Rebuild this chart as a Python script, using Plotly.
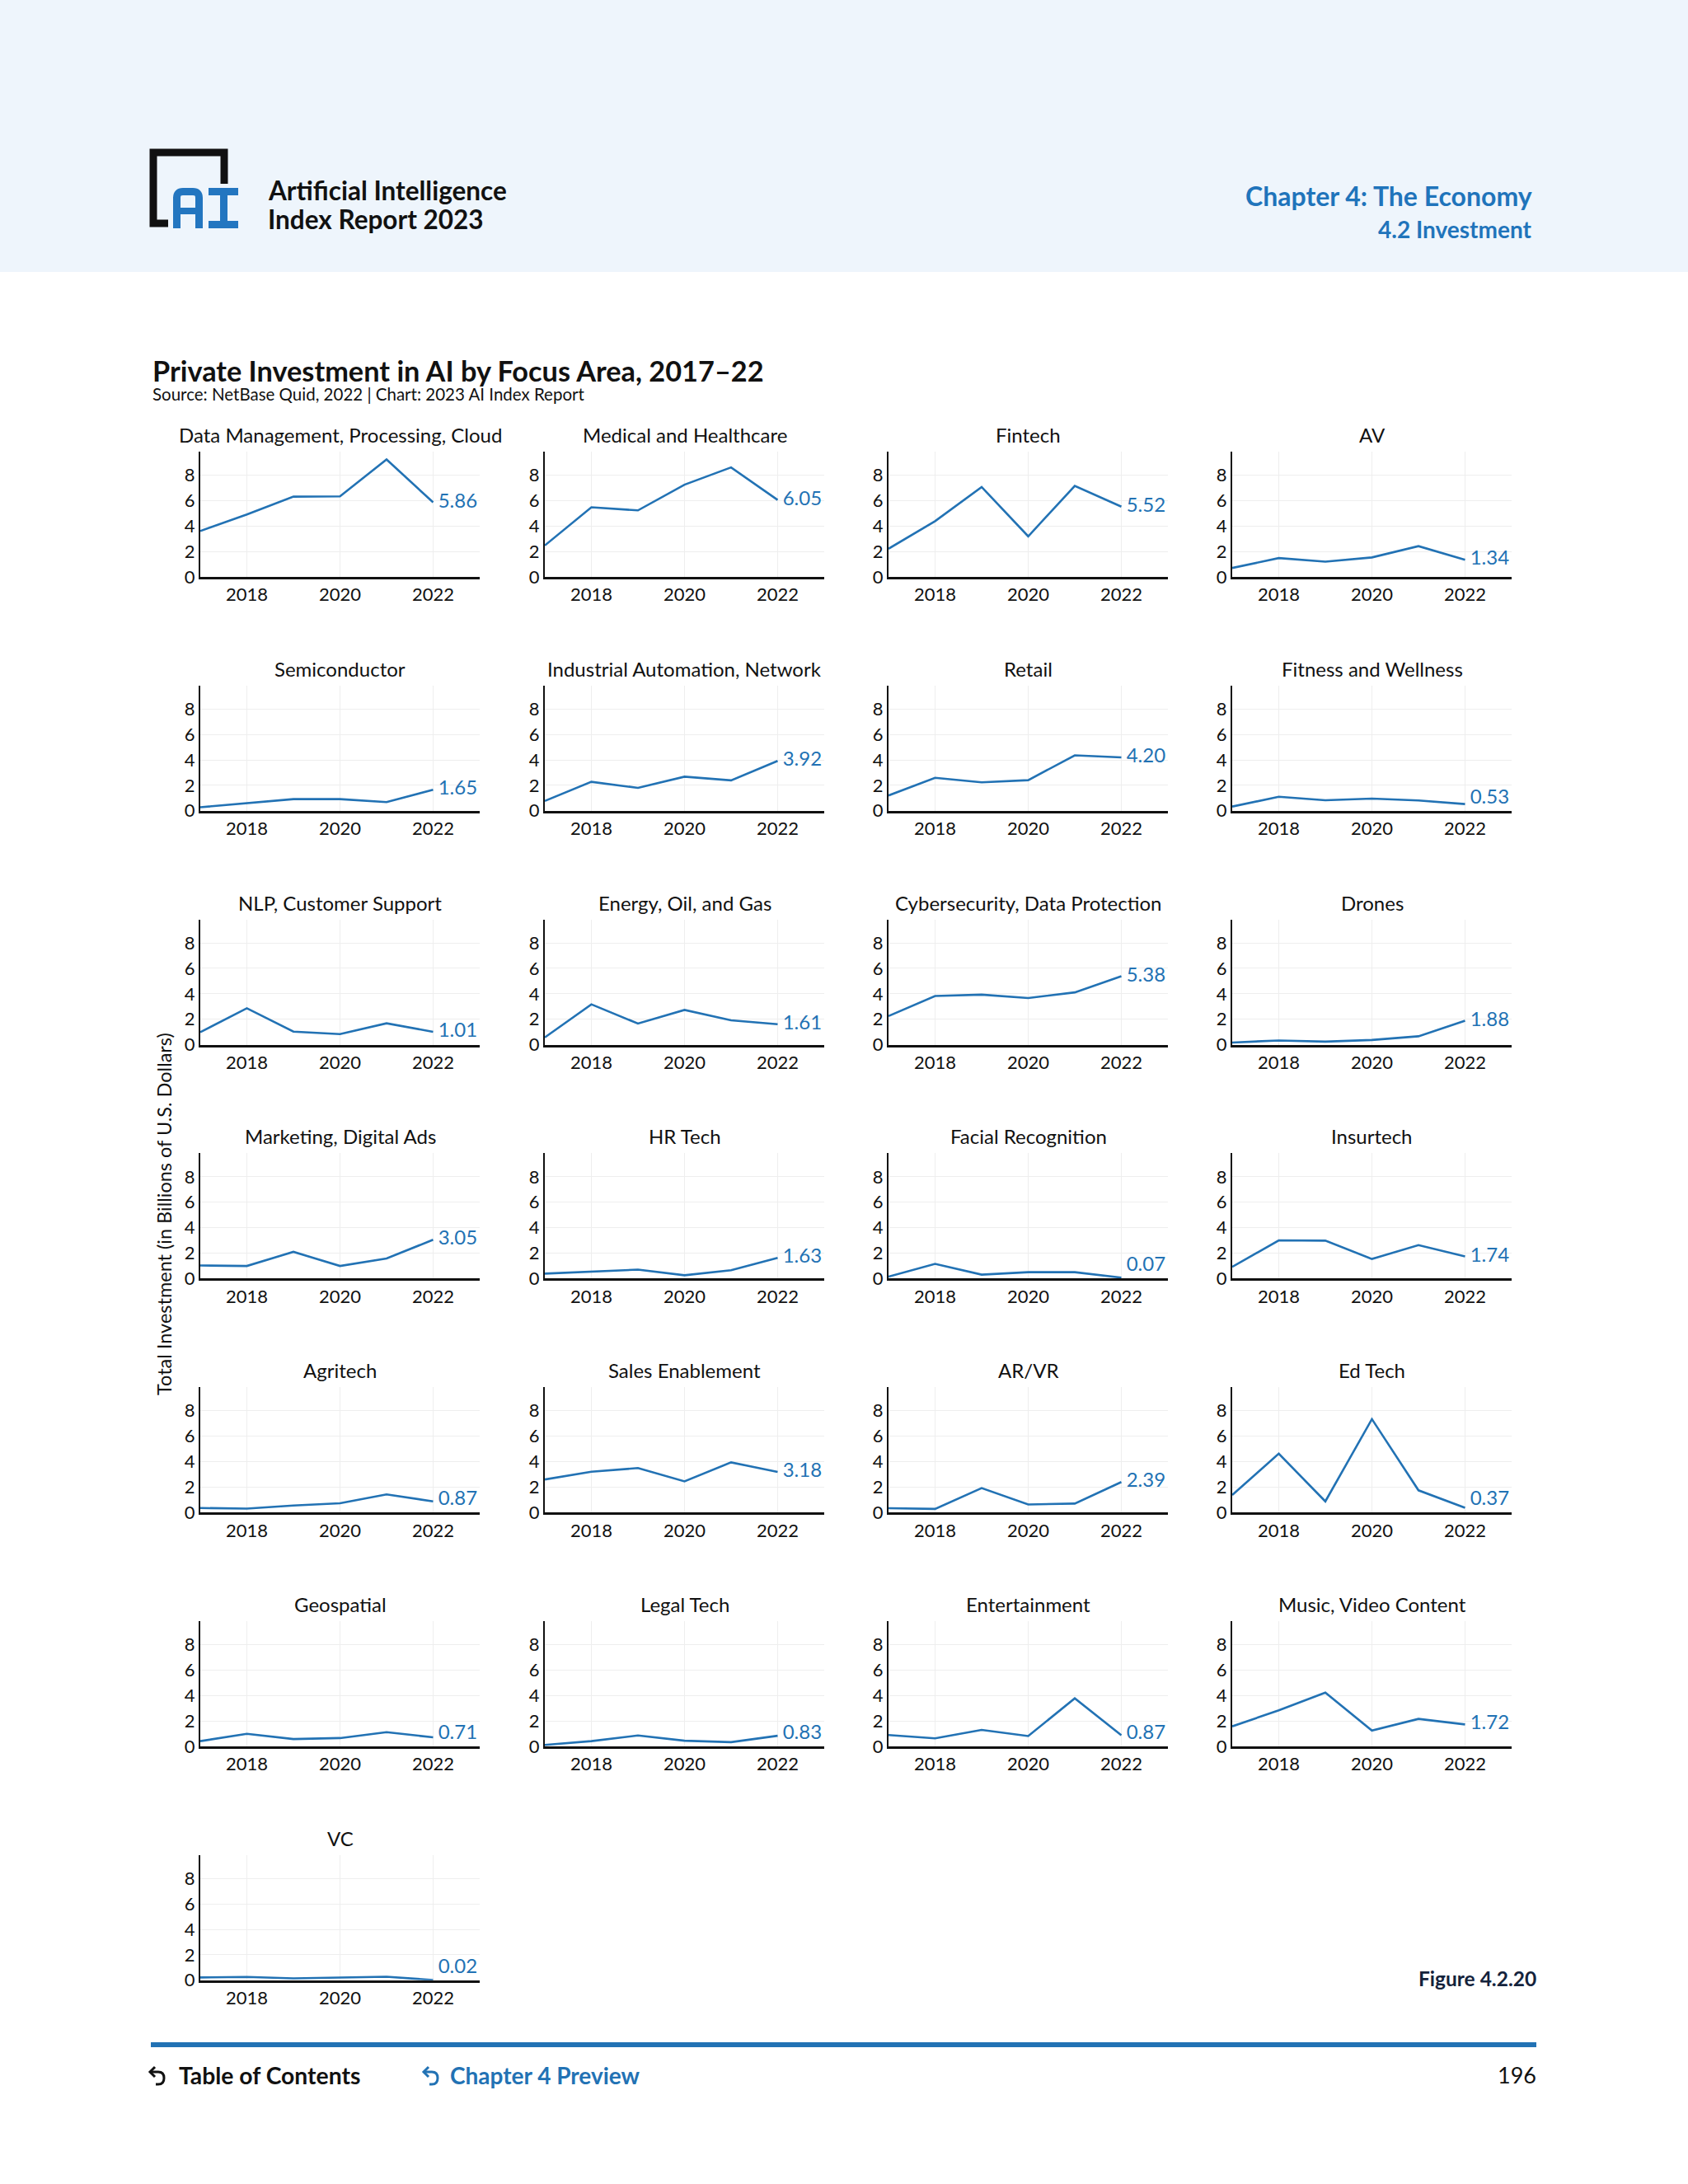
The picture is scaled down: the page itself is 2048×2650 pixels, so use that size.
import plotly.graph_objects as go

W, H = 2048, 2650
# the page capture squeezes the page slightly in height; compensate
K = 2663 / 2650

years = [2017, 2018, 2019, 2020, 2021, 2022]

categories = [
    "Data Management, Processing, Cloud", "Medical and Healthcare", "Fintech", "AV",
    "Semiconductor", "Industrial Automation, Network", "Retail", "Fitness and Wellness",
    "NLP, Customer Support", "Energy, Oil, and Gas", "Cybersecurity, Data Protection", "Drones",
    "Marketing, Digital Ads", "HR Tech", "Facial Recognition", "Insurtech",
    "Agritech", "Sales Enablement", "AR/VR", "Ed Tech",
    "Geospatial", "Legal Tech", "Entertainment", "Music, Video Content",
    "VC",
]

data_management = [3.61, 4.91, 6.31, 6.33, 9.23, 5.86]
medical_healthcare = [2.47, 5.47, 5.23, 7.25, 8.61, 6.05]
fintech = [2.21, 4.38, 7.07, 3.19, 7.16, 5.52]
av = [0.70, 1.48, 1.20, 1.53, 2.42, 1.34]
semiconductor = [0.28, 0.59, 0.92, 0.92, 0.68, 1.65]
industrial_automation = [0.77, 2.28, 1.80, 2.68, 2.39, 3.92]
retail = [1.20, 2.59, 2.24, 2.41, 4.36, 4.20]
fitness_wellness = [0.33, 1.10, 0.83, 0.96, 0.81, 0.53]
nlp_customer_support = [0.98, 2.86, 1.03, 0.83, 1.68, 1.01]
energy_oil_gas = [0.57, 3.17, 1.66, 2.73, 1.92, 1.61]
cybersecurity = [2.25, 3.83, 3.93, 3.67, 4.11, 5.38]
drones = [0.17, 0.33, 0.24, 0.37, 0.66, 1.88]
marketing_digital_ads = [1.03, 0.99, 2.10, 0.99, 1.58, 3.05]
hr_tech = [0.39, 0.55, 0.70, 0.26, 0.66, 1.63]
facial_recognition = [0.15, 1.16, 0.31, 0.50, 0.50, 0.07]
insurtech = [0.92, 3.00, 2.98, 1.54, 2.63, 1.74]
agritech = [0.35, 0.30, 0.54, 0.72, 1.42, 0.87]
sales_enablement = [2.59, 3.20, 3.49, 2.44, 3.94, 3.18]
ar_vr = [0.33, 0.28, 1.92, 0.63, 0.70, 2.39]
ed_tech = [1.37, 4.62, 0.87, 7.34, 1.74, 0.37]
geospatial = [0.41, 0.98, 0.57, 0.65, 1.11, 0.71]
legal_tech = [0.11, 0.41, 0.85, 0.44, 0.33, 0.83]
entertainment = [0.89, 0.63, 1.29, 0.81, 3.77, 0.87]
music_video = [1.57, 2.83, 4.23, 1.24, 2.16, 1.72]
vc = [0.22, 0.26, 0.15, 0.22, 0.28, 0.02]

series = [
    data_management, medical_healthcare, fintech, av,
    semiconductor, industrial_automation, retail, fitness_wellness,
    nlp_customer_support, energy_oil_gas, cybersecurity, drones,
    marketing_digital_ads, hr_tech, facial_recognition, insurtech,
    agritech, sales_enablement, ar_vr, ed_tech,
    geospatial, legal_tech, entertainment, music_video,
    vc,
]

y_ticks = [0, 2, 4, 6, 8]
x_ticks = [2018, 2020, 2022]

FONT = "Lato"
BLUE = "#2272B4"
HEAD_BLUE = "#1F74BB"
NAVY = "#14233C"
LABEL_MIN = 0.97  # end labels are kept clear of the x axis


def px(x):
    return x / W


def py(y):
    return 1 - (y * K) / H


col_x = [243, 661, 1078, 1495]
plot_w = 339
row_bottom0 = 700
row_step = 283.8
plot_h = 152

fig = go.Figure()
layout = {}
annotations = []
shapes = []

for i, (name, vals) in enumerate(zip(categories, series)):
    r, c = divmod(i, 4)
    n = "" if i == 0 else str(i + 1)
    x0 = col_x[c]
    x1 = x0 + plot_w
    yb = row_bottom0 + r * row_step
    yt = yb - plot_h
    fig.add_trace(go.Scatter(
        x=years, y=vals, mode="lines",
        line=dict(color=BLUE, width=2.6),
        xaxis="x" + n, yaxis="y" + n, showlegend=False,
        cliponaxis=False, hoverinfo="x+y",
    ))
    fig.add_trace(go.Scatter(
        x=[years[-1]], y=[max(vals[-1], LABEL_MIN)], mode="text",
        text=[f"&nbsp;{vals[-1]:.2f}"], textposition="middle right",
        textfont=dict(color=BLUE, size=24, family=FONT),
        xaxis="x" + n, yaxis="y" + n, showlegend=False,
        cliponaxis=False, hoverinfo="skip",
    ))
    layout["xaxis" + n] = dict(
        domain=[px(x0), px(x1)], anchor="y" + n, range=[2017, 2023],
        tickvals=x_ticks, ticktext=[str(t) for t in x_ticks],
        showgrid=True, gridcolor="#EEEEEE", gridwidth=1,
        showline=True, linecolor="#111111", linewidth=3.2,
        zeroline=False, ticks="", fixedrange=True,
        tickfont=dict(size=22, family=FONT, color="#111111"),
    )
    layout["yaxis" + n] = dict(
        domain=[py(yb), py(yt)], anchor="x" + n, range=[0, 9.85],
        tickvals=y_ticks, ticktext=[str(t) for t in y_ticks],
        showgrid=True, gridcolor="#EEEEEE", gridwidth=1,
        showline=True, linecolor="#111111", linewidth=2,
        zeroline=False, ticks="", fixedrange=True,
        tickfont=dict(size=22, family=FONT, color="#111111"),
    )
    annotations.append(dict(
        text=name, x=px((x0 + x1) / 2), y=py(yt - 4), xref="paper", yref="paper",
        xanchor="center", yanchor="bottom", showarrow=False,
        font=dict(size=24, family=FONT, color="#111111"),
    ))

# header band
shapes.append(dict(type="rect", xref="paper", yref="paper", x0=0, x1=1, y0=py(330), y1=1,
                   fillcolor="#EEF5FC", line=dict(width=0), layer="below"))
# logo black bracket
shapes.append(dict(type="path", xref="paper", yref="paper",
                   path=f"M {px(204)},{py(271)} L {px(186)},{py(271)} L {px(186)},{py(185)} "
                        f"L {px(272)},{py(185)} L {px(272)},{py(223)}",
                   line=dict(color="#111111", width=9)))
# logo A
shapes.append(dict(type="path", xref="paper", yref="paper",
                   path=f"M {px(214.5)},{py(277)} L {px(214.5)},{py(240)} Q {px(214.5)},{py(232.5)} {px(222)},{py(232.5)} "
                        f"L {px(234)},{py(232.5)} Q {px(241.5)},{py(232.5)} {px(241.5)},{py(240)} L {px(241.5)},{py(277)}",
                   line=dict(color="#2376C0", width=9)))
shapes.append(dict(type="rect", xref="paper", yref="paper", x0=px(214), x1=px(242), y0=py(260), y1=py(252),
                   fillcolor="#2376C0", line=dict(width=0)))
# logo I
for (a, b, cc, d) in [(253, 289, 228, 237), (253, 289, 268, 277), (267, 276, 228, 277)]:
    shapes.append(dict(type="rect", xref="paper", yref="paper", x0=px(a), x1=px(b), y0=py(d), y1=py(cc),
                       fillcolor="#2376C0", line=dict(width=0)))

# footer line
shapes.append(dict(type="line", xref="paper", yref="paper", x0=px(183), x1=px(1864), y0=py(2481), y1=py(2481),
                   line=dict(color="#2272B4", width=6)))


def back_arrow(x, y, color):
    # x,y : top-left tip of arrow
    shapes.append(dict(type="path", xref="paper", yref="paper",
                       path=f"M {px(x+2)},{py(y+6)} L {px(x+10)},{py(y+6)} Q {px(x+17)},{py(y+6)} {px(x+17)},{py(y+13.5)} "
                            f"Q {px(x+17)},{py(y+21)} {px(x+10)},{py(y+21)} L {px(x+7)},{py(y+21)}",
                       line=dict(color=color, width=3)))
    shapes.append(dict(type="path", xref="paper", yref="paper",
                       path=f"M {px(x+6)},{py(y)} L {px(x)},{py(y+6)} L {px(x+6)},{py(y+12)}",
                       line=dict(color=color, width=3)))


back_arrow(182, 2508, "#111111")
back_arrow(514, 2508, "#2272B4")


def ann(text, x, y, xa, ya, size, color, bold=False, family=FONT, **kw):
    t = f"<b>{text}</b>" if bold else text
    d = dict(text=t, x=px(x), y=py(y), xref="paper", yref="paper", xanchor=xa, yanchor=ya,
             showarrow=False, font=dict(size=size, family=family, color=color))
    d.update(kw)
    annotations.append(d)


ann("Artificial Intelligence", 323, 231, "left", "middle", 31.5, "#111111", bold=True)
ann("Index Report 2023", 323, 266, "left", "middle", 31.5, "#111111", bold=True)
ann("Chapter 4: The Economy", 1861, 238, "right", "middle", 32, HEAD_BLUE, bold=True)
ann("4.2 Investment", 1861, 278, "right", "middle", 28, HEAD_BLUE, bold=True)

ann("Private Investment in AI by Focus Area, 2017–22", 183, 450, "left", "middle", 34.3, "#111111", bold=True)
ann("Source: NetBase Quid, 2022 | Chart: 2023 AI Index Report", 183, 478, "left", "middle", 20.5, "#111111")

ann("Total Investment (in Billions of U.S. Dollars)", 199, 1473, "center", "middle", 23.5, "#111111",
    textangle=-90)

ann("Figure 4.2.20", 1866, 2401, "right", "middle", 24.5, NAVY, bold=True)
ann("Table of Contents", 215, 2518, "left", "middle", 28.3, "#111111", bold=True)
ann("Chapter 4 Preview", 544, 2518, "left", "middle", 28, "#2272B4", bold=True)
ann("196", 1866, 2518, "right", "middle", 27, "#111111")

fig.update_layout(
    width=W, height=H, margin=dict(l=0, r=0, t=0, b=0),
    paper_bgcolor="white", plot_bgcolor="white",
    font=dict(family=FONT, color="#111111"),
    annotations=annotations, shapes=shapes, showlegend=False,
    **layout,
)

post = (
    "var de=document.documentElement, b=document.body;"
    "[de,b].forEach(function(e){e.style.margin='0';e.style.padding='0';"
    "e.style.overflow='hidden';e.style.height='2650px';e.style.width='2048px';});"
    "b.style.fontSize='0';b.style.lineHeight='0';"
)

fig.write_html("out.html", post_script=post, config={"displayModeBar": False})
